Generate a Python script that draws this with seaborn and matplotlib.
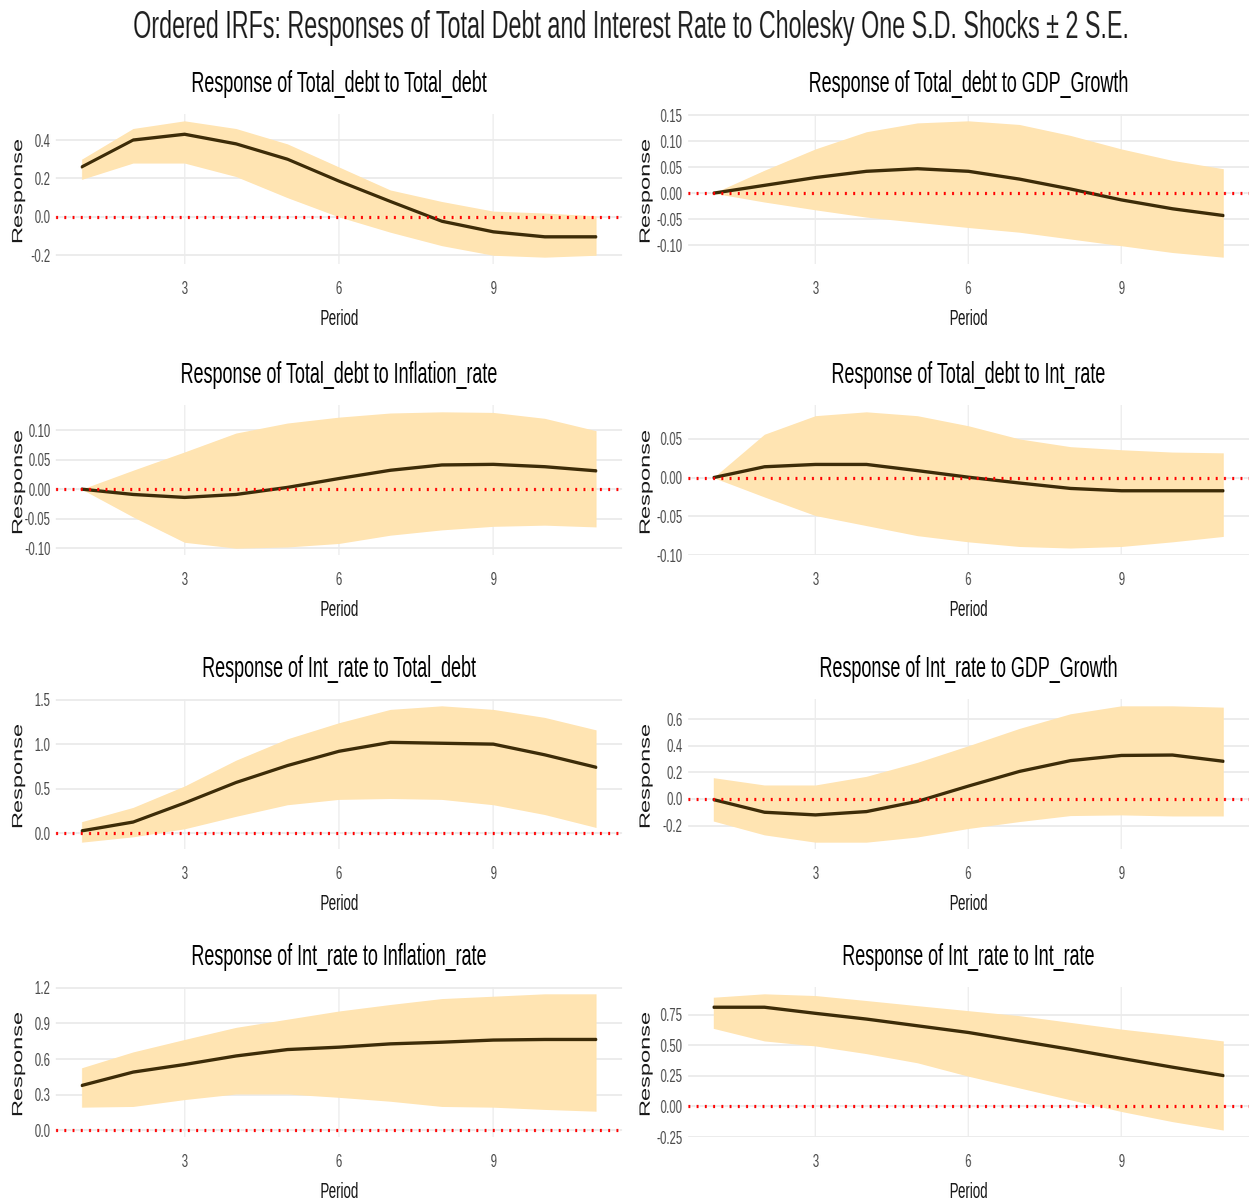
import io
import numpy as np
import pandas as pd
import matplotlib
matplotlib.use("Agg")
import matplotlib.pyplot as plt
import seaborn as sns
from PIL import Image

# ---- impulse responses (periods 1..11): point estimate, lower and upper ±2 S.E. bands ----
periods = list(range(1, 12))

titles = [
    "Response of Total_debt to Total_debt",
    "Response of Total_debt to GDP_Growth",
    "Response of Total_debt to Inflation_rate",
    "Response of Total_debt to Int_rate",
    "Response of Int_rate to Total_debt",
    "Response of Int_rate to GDP_Growth",
    "Response of Int_rate to Inflation_rate",
    "Response of Int_rate to Int_rate",
]

debt_debt = [0.26, 0.40, 0.43, 0.38, 0.30, 0.186, 0.08, -0.023, -0.078, -0.104, -0.104]
debt_debt_lo = [0.195, 0.28, 0.28, 0.21, 0.10, 0.0, -0.08, -0.15, -0.20, -0.21, -0.20]
debt_debt_hi = [0.30, 0.46, 0.50, 0.46, 0.38, 0.26, 0.14, 0.08, 0.03, 0.02, 0.005]

debt_gdp = [0.0, 0.015, 0.030, 0.042, 0.047, 0.042, 0.027, 0.008, -0.013, -0.030, -0.043]
debt_gdp_lo = [0.0, -0.017, -0.032, -0.046, -0.056, -0.066, -0.075, -0.088, -0.101, -0.114, -0.123]
debt_gdp_hi = [0.0, 0.044, 0.085, 0.118, 0.135, 0.139, 0.132, 0.111, 0.085, 0.063, 0.047]

debt_infl = [0.0, -0.009, -0.014, -0.009, 0.003, 0.018, 0.032, 0.041, 0.042, 0.038, 0.031]
debt_infl_lo = [0.0, -0.047, -0.090, -0.100, -0.098, -0.092, -0.078, -0.069, -0.063, -0.061, -0.064]
debt_infl_hi = [0.0, 0.032, 0.063, 0.095, 0.112, 0.122, 0.129, 0.131, 0.130, 0.120, 0.099]

debt_int = [0.0, 0.014, 0.017, 0.017, 0.009, 0.0005, -0.007, -0.014, -0.017, -0.017, -0.017]
debt_int_lo = [0.0, -0.025, -0.049, -0.062, -0.075, -0.083, -0.089, -0.091, -0.089, -0.083, -0.076]
debt_int_hi = [0.0, 0.056, 0.080, 0.085, 0.080, 0.067, 0.050, 0.040, 0.036, 0.033, 0.032]

int_debt = [0.027, 0.126, 0.34, 0.57, 0.76, 0.92, 1.02, 1.01, 1.0, 0.88, 0.74]
int_debt_lo = [-0.10, -0.04, 0.05, 0.19, 0.32, 0.38, 0.39, 0.38, 0.32, 0.21, 0.065]
int_debt_hi = [0.13, 0.29, 0.53, 0.82, 1.06, 1.24, 1.39, 1.43, 1.39, 1.30, 1.16]

int_gdp = [-0.005, -0.10, -0.12, -0.095, -0.018, 0.097, 0.207, 0.288, 0.327, 0.33, 0.283]
int_gdp_lo = [-0.166, -0.27, -0.325, -0.325, -0.286, -0.222, -0.17, -0.125, -0.12, -0.128, -0.128]
int_gdp_hi = [0.16, 0.105, 0.105, 0.17, 0.275, 0.40, 0.53, 0.64, 0.70, 0.70, 0.69]

int_infl = [0.377, 0.49, 0.554, 0.626, 0.68, 0.70, 0.728, 0.742, 0.76, 0.765, 0.765]
int_infl_lo = [0.194, 0.20, 0.258, 0.305, 0.305, 0.277, 0.244, 0.20, 0.194, 0.175, 0.16]
int_infl_hi = [0.526, 0.66, 0.765, 0.867, 0.936, 1.005, 1.06, 1.11, 1.13, 1.15, 1.15]

int_int = [0.813, 0.813, 0.763, 0.716, 0.661, 0.606, 0.537, 0.468, 0.394, 0.322, 0.253]
int_int_lo = [0.64, 0.537, 0.496, 0.433, 0.358, 0.248, 0.152, 0.055, -0.041, -0.124, -0.193]
int_int_hi = [0.895, 0.923, 0.909, 0.868, 0.826, 0.785, 0.744, 0.689, 0.634, 0.587, 0.537]

x_ticks = [3, 6, 9]
y_ticks = [
    [-0.2, 0.0, 0.2, 0.4],
    [-0.10, -0.05, 0.00, 0.05, 0.10, 0.15],
    [-0.10, -0.05, 0.00, 0.05, 0.10],
    [-0.10, -0.05, 0.00, 0.05],
    [0.0, 0.5, 1.0, 1.5],
    [-0.2, 0.0, 0.2, 0.4, 0.6],
    [0.0, 0.3, 0.6, 0.9, 1.2],
    [-0.25, 0.00, 0.25, 0.50, 0.75],
]
y_fmt = ["{:.1f}", "{:.2f}", "{:.2f}", "{:.2f}", "{:.1f}", "{:.1f}", "{:.1f}", "{:.2f}"]

series = [
    (debt_debt, debt_debt_lo, debt_debt_hi),
    (debt_gdp, debt_gdp_lo, debt_gdp_hi),
    (debt_infl, debt_infl_lo, debt_infl_hi),
    (debt_int, debt_int_lo, debt_int_hi),
    (int_debt, int_debt_lo, int_debt_hi),
    (int_gdp, int_gdp_lo, int_gdp_hi),
    (int_infl, int_infl_lo, int_infl_hi),
    (int_int, int_int_lo, int_int_hi),
]

frames = []
for title, (mid, lo, hi) in zip(titles, series):
    frames.append(pd.DataFrame({"panel": title, "Period": periods,
                                "Response": mid, "lower": lo, "upper": hi}))
irf = pd.concat(frames, ignore_index=True)

# ---- style ----
sns.set_theme(style="white")
plt.rcParams["font.family"] = ["Liberation Sans", "DejaVu Sans"]

band_color = "#FFE4B2"
line_color = "#3d2c08"
grid_color = "#ebebeb"

# the figure is drawn wide and then narrowed to the final size,
# which gives the condensed lettering
W, H = 1249, 1203
SQUEEZE = 0.6
WW = int(round(W / SQUEEZE))
fig = plt.figure(figsize=(WW / 100, H / 100), dpi=100)

col_left = [56, 688]
col_width = [566, 561]
row_top = [114, 405, 699, 987]
row_h = 150

for i, title in enumerate(titles):
    r, c = divmod(i, 2)
    rect = [col_left[c] / W, 1 - (row_top[r] + row_h) / H, col_width[c] / W, row_h / H]
    ax = fig.add_axes(rect)
    d = irf[irf["panel"] == title]

    ax.fill_between(d["Period"], d["lower"], d["upper"], color=band_color, linewidth=0, zorder=1)
    sns.lineplot(data=d, x="Period", y="Response", ax=ax, color=line_color,
                 linewidth=2.4, zorder=3)
    ax.axhline(0, color="red", linestyle=(0, (1, 3.3)), linewidth=2.3, zorder=4)

    # limits as in ggplot: include the zero line, pad 5% on both axes
    lo = min(d["lower"].min(), 0.0)
    hi = max(d["upper"].max(), 0.0)
    pad = 0.05 * (hi - lo)
    ax.set_ylim(lo - pad, hi + pad)
    xpad = 0.05 * (max(periods) - min(periods))
    ax.set_xlim(min(periods) - xpad, max(periods) + xpad)

    ax.set_xticks(x_ticks)
    ax.set_xticklabels([str(t) for t in x_ticks])
    ax.set_yticks(y_ticks[i])
    ax.set_yticklabels([y_fmt[i].format(t) for t in y_ticks[i]])

    ax.grid(True, color=grid_color, linewidth=1.3, zorder=0)
    ax.set_axisbelow(True)
    for s in ax.spines.values():
        s.set_visible(False)
    ax.tick_params(axis="x", length=0, pad=12, labelsize=13.5, labelcolor="#4d4d4d")
    ax.tick_params(axis="y", length=0, pad=7, labelsize=13.5, labelcolor="#4d4d4d")

    ax.set_title(title, fontsize=21.5, color="black", pad=16)
    ax.set_xlabel("Period", fontsize=16, color="#1a1a1a")
    ax.xaxis.set_label_coords(0.5, -0.30)
    ax.set_ylabel("Response", fontsize=17, color="#1a1a1a")
    ax.yaxis.set_label_coords(-0.055 if c == 0 else -0.064, 0.5)

fig.suptitle("Ordered IRFs: Responses of Total Debt and Interest Rate to Cholesky One S.D. Shocks ± 2 S.E.",
             fontsize=28, y=1 - 28 / H, va="center", x=631 / W)

buf = io.BytesIO()
fig.savefig(buf, dpi=100, facecolor="white", format="png")
buf.seek(0)
img = Image.open(buf).convert("RGB")
img = img.resize((W, H), Image.LANCZOS)
img.save("out.png")
